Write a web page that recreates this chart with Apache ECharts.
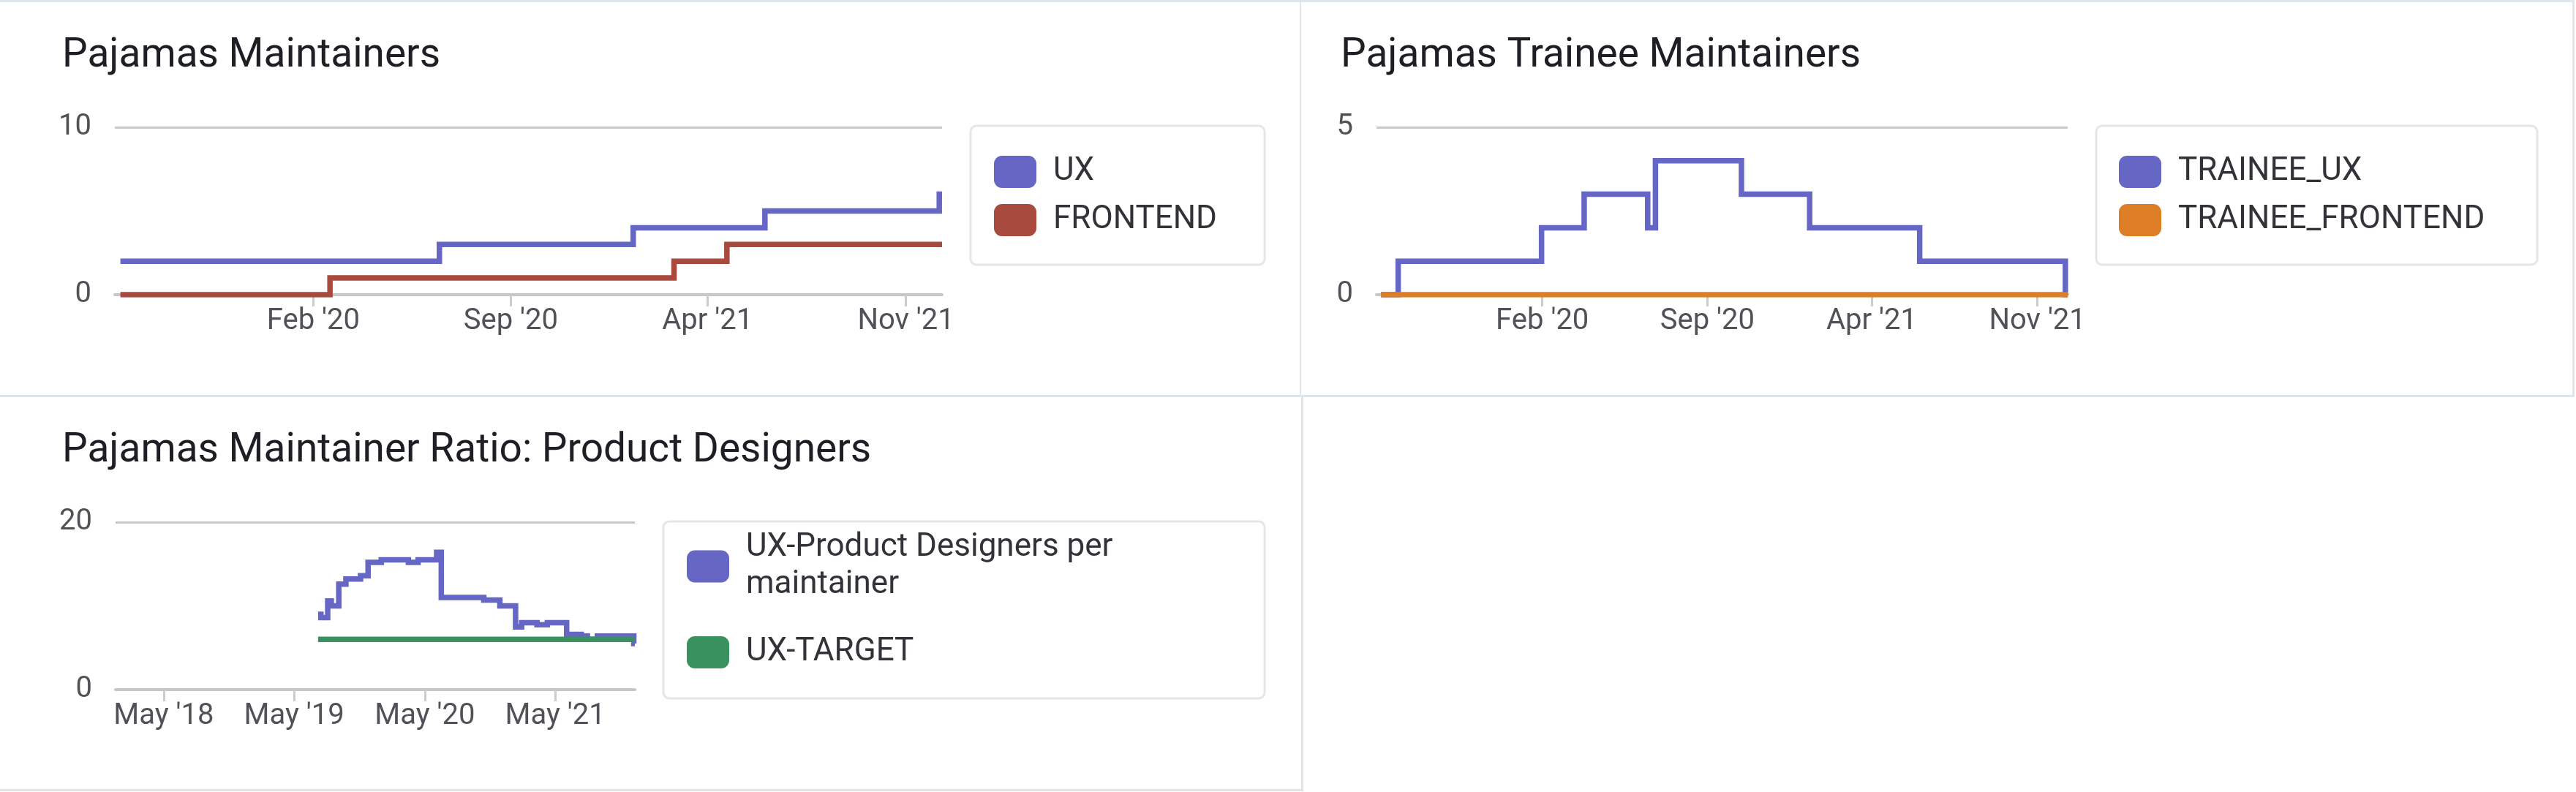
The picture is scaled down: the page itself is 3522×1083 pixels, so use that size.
<!DOCTYPE html>
<html><head><meta charset="utf-8">
<script src="https://cdn.jsdelivr.net/npm/echarts@6/dist/echarts.min.js"></script>
<style>
html,body{margin:0;padding:0;background:#fff;width:3522px;height:1083px;overflow:hidden}
.panel{position:absolute}
.b{position:absolute;background:#e0e5eb;z-index:5}
</style></head><body>
<div id="a" class="panel" style="left:0;top:0;width:1777px;height:540px"></div>
<div id="b" class="panel" style="left:1779px;top:0;width:1738px;height:540px"></div>
<div id="c" class="panel" style="left:0;top:543px;width:1779px;height:536px"></div>
<div class="b" style="left:0;top:0;width:3520px;height:3px"></div>
<div class="b" style="left:1777px;top:0;width:2px;height:541px"></div>
<div class="b" style="left:0;top:540px;width:3520px;height:3px"></div>
<div class="b" style="left:3517px;top:0;width:3px;height:543px"></div>
<div class="b" style="left:1779px;top:541px;width:3px;height:541px"></div>
<div class="b" style="left:0;top:1079px;width:1782px;height:3px"></div>
<script>
// ---- data ----
const uxDates = ['2019-07-08','2020-06-16','2021-01-11','2021-06-02','2021-12-07','2021-12-10'];
const uxValues = [2,3,4,5,6,6];
const frontendDates = ['2019-07-08','2020-02-19','2021-02-24','2021-04-22','2021-12-10'];
const frontendValues = [0,1,2,3,3];

const traineeUxDates = ['2019-07-08','2019-07-30','2020-01-31','2020-03-26','2020-06-16','2020-06-26','2020-10-15','2021-01-11','2021-06-02','2021-12-07','2021-12-10'];
const traineeUxValues = [0,1,2,3,2,4,3,2,1,0,0];
const traineeFrontendDates = ['2019-07-08','2021-12-10'];
const traineeFrontendValues = [0,0];

const ratioDates = ['2019-07-07','2019-07-15','2019-08-03','2019-08-13','2019-09-03','2019-09-23','2019-11-03','2019-11-24','2019-12-31','2020-03-16','2020-04-12','2020-06-03','2020-06-16','2020-10-13','2020-11-27','2021-01-10','2021-01-27','2021-03-11','2021-04-09','2021-06-02','2021-07-13','2021-07-30','2021-08-27','2021-12-07','2021-12-10'];
const ratioValues = [9.0,8.6,10.6,10.0,12.6,13.2,13.6,15.2,15.5,15.2,15.5,16.4,11.0,10.7,10.0,7.5,8.0,7.75,8.0,6.6,6.4,6.0,6.4,5.5,5.5];
const targetDates = ['2019-07-07','2021-12-10'];
const targetValues = [6,6];

const tickDatesAB = ['2020-02-01','2020-09-01','2021-04-01','2021-11-01'];
const tickLabelsAB = ["Feb '20","Sep '20","Apr '21","Nov '21"];
const tickDatesC = ['2018-05-01','2019-05-01','2020-05-01','2021-05-01'];
const tickLabelsC = ["May '18","May '19","May '20","May '21"];

const rangeAB = ['2019-07-02','2021-12-10'];
const rangeC = ['2017-12-17','2021-12-10'];

// ---- helpers ----
const ts = s => { const p = s.split('-').map(Number); return Date.UTC(p[0], p[1]-1, p[2]); };
const pairs = (d, v) => d.map((x, i) => [ts(x), v[i]]);
const FONT = 'Roboto';
const AXIS_TEXT = '#535158';
const LEGEND_TEXT = '#333238';

function lineSeries(name, dates, values, color) {
  return {
    name, type: 'line', step: 'end', showSymbol: false, symbol: 'none',
    data: pairs(dates, values), color,
    lineStyle: { width: 7.5, color, join: 'miter', cap: 'butt' },
    emphasis: { disabled: true }, animation: false
  };
}

function build(el, cfg) {
  const chart = echarts.init(document.getElementById(el), null, { renderer: 'canvas' });
  const tickT = cfg.ticks.map(ts);
  const fmt = v => {
    let best = 0, bd = Infinity;
    tickT.forEach((t, i) => { const d = Math.abs(t - v); if (d < bd) { bd = d; best = i; } });
    return cfg.tickLabels[best];
  };
  const legends = cfg.legends.map(l => Object.assign({
    orient: 'vertical', icon: 'roundRect', itemWidth: 58, itemHeight: 44, itemGap: 22,
    padding: 0, selectedMode: false,
    itemStyle: { borderWidth: 0 },
    textStyle: { fontSize: 44, color: LEGEND_TEXT, fontFamily: FONT, lineHeight: 44, padding: [0,0,0,18] }
  }, l));
  chart.setOption({
    animation: false,
    textStyle: { fontFamily: FONT },
    title: {
      text: cfg.title, left: cfg.titleLeft, top: cfg.titleTop, padding: 0,
      textStyle: { fontSize: 55, fontWeight: 'normal', color: '#1f1e24', fontFamily: FONT }
    },
    grid: Object.assign({ containLabel: false, outerBoundsMode: 'none' }, cfg.grid),
    legend: legends,
    graphic: [{
      type: 'rect', silent: true, z: -1,
      shape: Object.assign({ r: 8 }, cfg.box),
      style: { fill: '#ffffff', stroke: '#e3e7ec', lineWidth: 3 }
    }],
    xAxis: {
      type: 'value', min: ts(cfg.range[0]), max: ts(cfg.range[1]), z: 3,
      axisLine: { show: true, onZero: false, lineStyle: { color: '#c6c6c6', width: 4 } },
      axisTick: { show: true, customValues: tickT, length: 16, lineStyle: { color: '#cccccc', width: 3 } },
      axisLabel: { customValues: tickT, formatter: fmt, fontSize: 40, color: AXIS_TEXT, fontFamily: FONT, margin: 17, hideOverlap: false },
      splitLine: { show: false }
    },
    yAxis: {
      type: 'value', min: 0, max: cfg.yMax, interval: cfg.yMax,
      axisLine: { show: false }, axisTick: { show: false },
      axisLabel: { fontSize: 40, color: AXIS_TEXT, fontFamily: FONT, margin: 32, padding: [6,0,0,0] },
      splitLine: { show: true, lineStyle: { color: '#c9c9c9', width: 3 } }
    },
    series: cfg.series
  });
}

build('a', {
  title: 'Pajamas Maintainers', titleLeft: 85, titleTop: 50,
  grid: { left: 157, top: 174, width: 1131, height: 229 },
  range: rangeAB, ticks: tickDatesAB, tickLabels: tickLabelsAB, yMax: 10,
  box: { x: 1327, y: 172, width: 402, height: 190 },
  legends: [{ left: 1359, top: 213, data: ['UX', 'FRONTEND'] }],
  series: [
    lineSeries('UX', uxDates, uxValues, '#6666c4'),
    lineSeries('FRONTEND', frontendDates, frontendValues, '#a94a3e')
  ]
});

build('b', {
  title: 'Pajamas Trainee Maintainers', titleLeft: 54, titleTop: 50,
  grid: { left: 103, top: 174, width: 945, height: 229 },
  range: rangeAB, ticks: tickDatesAB, tickLabels: tickLabelsAB, yMax: 5,
  box: { x: 1087, y: 172, width: 603, height: 190 },
  legends: [{ left: 1118, top: 213, data: ['TRAINEE_UX', 'TRAINEE_FRONTEND'] }],
  series: [
    lineSeries('TRAINEE_UX', traineeUxDates, traineeUxValues, '#6666c4'),
    lineSeries('TRAINEE_FRONTEND', traineeFrontendDates, traineeFrontendValues, '#dd7e26')
  ]
});

build('c', {
  title: 'Pajamas Maintainer Ratio: Product Designers', titleLeft: 85, titleTop: 47,
  grid: { left: 158, top: 171, width: 710, height: 229 },
  range: rangeC, ticks: tickDatesC, tickLabels: tickLabelsC, yMax: 20,
  box: { x: 907, y: 170, width: 822, height: 242 },
  legends: [
    { left: 939, top: 155, data: ['UX-Product Designers per maintainer'],
      formatter: n => n.replace(' per ', ' per\n'),
      textStyle: { fontSize: 44, color: LEGEND_TEXT, fontFamily: FONT, lineHeight: 51, padding: [51,0,0,18] } },
    { left: 939, top: 327, data: ['UX-TARGET'] }
  ],
  series: [
    lineSeries('UX-Product Designers per maintainer', ratioDates, ratioValues, '#6666c4'),
    lineSeries('UX-TARGET', targetDates, targetValues, '#3a9160')
  ]
});
</script>
</body></html>
